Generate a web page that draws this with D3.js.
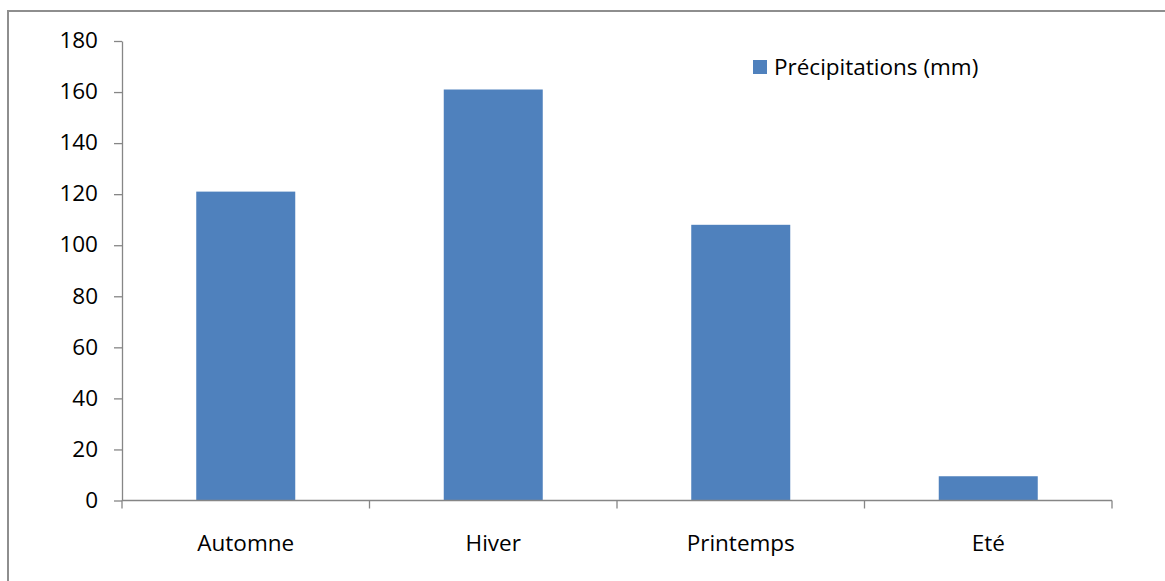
<!DOCTYPE html>
<html>
<head>
<meta charset="utf-8">
<script src="https://cdn.jsdelivr.net/npm/d3@7"></script>
<style>
  html, body { margin: 0; padding: 0; background: #fff; }
  svg { display: block; }
  text { font-family: "Open Sans", sans-serif; fill: #000; }
</style>
</head>
<body>
<svg id="chart" width="1165" height="581"></svg>
<script>
// Seasonal rainfall
const seasons = ["Automne", "Hiver", "Printemps", "Eté"];
const rainfall = [121, 161, 108, 9.5];
const seriesName = "Précipitations (mm)";
const yTicks = [0, 20, 40, 60, 80, 100, 120, 140, 160, 180];

const W = 1165, H = 581;
const plot = { left: 122, right: 1112, top: 41, bottom: 500.5 };
const barColor = "#4f81bd";
const axisColor = "#868686";
const fontFamily = "'Open Sans', sans-serif";
const fontSize = 22.5;

const svg = d3.select("#chart");

// outer frame of the chart area
svg.append("rect")
  .attr("x", 8).attr("y", 11)
  .attr("width", W + 20).attr("height", H + 20)
  .attr("fill", "none")
  .attr("stroke", "#8e8e8e")
  .attr("stroke-width", 2);

const x = d3.scaleBand().domain(seasons).range([plot.left, plot.right]).padding(0);
const y = d3.scaleLinear().domain([0, 180]).range([plot.bottom, plot.top]);

// bars
const barW = x.bandwidth() * 0.4;
svg.append("g").selectAll("rect")
  .data(seasons.map((s, i) => ({ s, v: rainfall[i] })))
  .join("rect")
  .attr("x", d => x(d.s) + (x.bandwidth() - barW) / 2)
  .attr("y", d => y(d.v))
  .attr("width", barW)
  .attr("height", d => y(0) - y(d.v))
  .attr("fill", barColor);

// y axis
const yAxis = svg.append("g")
  .attr("transform", `translate(${plot.left},0)`)
  .call(d3.axisLeft(y).tickValues(yTicks).tickSize(8).tickPadding(16).tickSizeOuter(0));
yAxis.select(".domain").attr("stroke", axisColor).attr("stroke-width", 1.3);
yAxis.selectAll(".tick line").attr("stroke", axisColor).attr("stroke-width", 1.3);
yAxis.selectAll(".tick text")
  .style("font-family", fontFamily)
  .style("font-size", fontSize + "px")
  .attr("dy", "0.3em")
  .attr("fill", "#000");

// x axis: category boundary ticks
const xg = svg.append("g");
xg.append("line")
  .attr("x1", plot.left).attr("x2", plot.right)
  .attr("y1", y(0)).attr("y2", y(0))
  .attr("stroke", axisColor).attr("stroke-width", 1.3);
const bounds = seasons.map(s => x(s)).concat([x(seasons[seasons.length - 1]) + x.bandwidth()]);
xg.selectAll("line.tk").data(bounds).join("line")
  .attr("class", "tk")
  .attr("x1", d => d).attr("x2", d => d)
  .attr("y1", y(0)).attr("y2", y(0) + 8)
  .attr("stroke", axisColor).attr("stroke-width", 1.3);
xg.selectAll("text").data(seasons).join("text")
  .attr("x", d => x(d) + x.bandwidth() / 2)
  .attr("y", 551)
  .attr("text-anchor", "middle")
  .style("font-family", fontFamily)
  .style("font-size", fontSize + "px")
  .text(d => d);

// legend
const lg = svg.append("g").attr("transform", "translate(753,60)");
lg.append("rect").attr("width", 14).attr("height", 14).attr("fill", barColor);
lg.append("text").attr("x", 21).attr("y", 14.5)
  .style("font-family", fontFamily)
  .style("font-size", fontSize + "px")
  .text(seriesName);
</script>
</body>
</html>
